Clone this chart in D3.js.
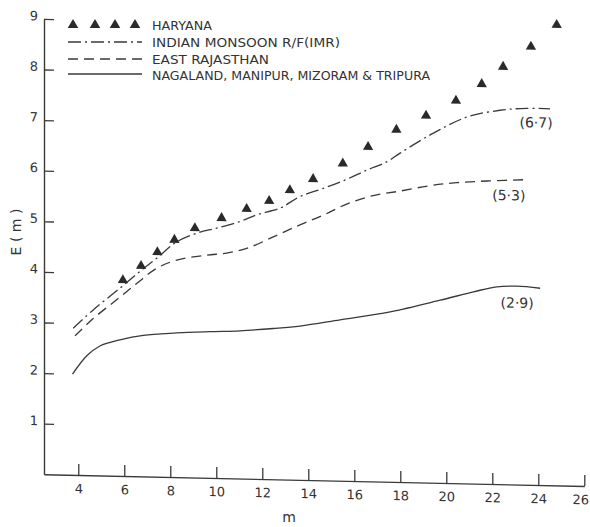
<!DOCTYPE html>
<html><head><meta charset="utf-8">
<script src="https://cdn.jsdelivr.net/npm/d3@7"></script>
<style>body{margin:0;background:#fff}svg{display:block}</style>
</head><body><svg id="c" width="590" height="527"></svg>
<script>
// ---- data ----
const xTicks = [4,6,8,10,12,14,16,18,20,22,24,26];
const yTicks = [1,2,3,4,5,6,7,8,9];
const seriesNames = ["HARYANA","INDIAN MONSOON R/F(IMR)","EAST RAJASTHAN","NAGALAND, MANIPUR, MIZORAM & TRIPURA"];
const endLabels = ["(6·7)","(5·3)","(2·9)"];
const haryanaM = [5.94,6.73,7.44,8.18,9.07,10.23,11.32,12.30,13.20,14.21,15.50,16.60,17.83,19.12,20.42,21.54,22.47,23.68,24.80];
const haryanaE = [3.87,4.16,4.44,4.69,4.93,5.14,5.33,5.50,5.72,5.95,6.27,6.61,6.96,7.25,7.56,7.90,8.25,8.66,9.10];
const imrM = [3.78,4.65,5.81,6.68,7.41,8.28,9.15,10.02,11.03,11.76,12.77,13.64,14.65,15.67,16.54,17.41,17.99,19.44,20.89,22.34,23.50,24.51];
const imrE = [2.90,3.27,3.71,4.05,4.32,4.65,4.83,4.94,5.08,5.22,5.36,5.60,5.77,5.96,6.15,6.32,6.50,6.91,7.24,7.39,7.44,7.44];
const erM = [3.86,4.65,5.67,6.54,7.41,8.28,9.58,10.45,11.32,12.48,13.64,14.65,15.67,16.82,17.99,19.29,20.45,21.90,23.50];
const erE = [2.75,3.10,3.48,3.81,4.12,4.29,4.40,4.45,4.55,4.79,5.04,5.24,5.47,5.65,5.75,5.87,5.94,5.99,6.03];
const nmmtM = [3.75,4.37,4.94,5.81,6.83,8.28,9.73,11.03,12.48,13.64,15.38,17.56,19.73,21.18,22.19,23.06,24.08];
const nmmtE = [1.99,2.36,2.56,2.69,2.79,2.85,2.89,2.92,2.98,3.04,3.18,3.36,3.61,3.79,3.90,3.92,3.89];

// ---- layout ----
const INK = "#3a3a3a";
const FONT = "'DejaVu Sans', sans-serif";
const svg = d3.select("#c");
const ox = 44, oy = 474.3;
const x = d3.scaleLinear().domain([2.51, 26]).range([0, 540.3]);
const y = d3.scaleLinear().domain([0, 9]).range([0, -455.4]);

const g = svg.append("g").attr("transform", `translate(${ox},${oy}) skewY(1.243)`);

// axes
const xAxis = d3.axisBottom(x).tickValues(xTicks).tickSizeInner(-11).tickSizeOuter(0).tickPadding(9);
const gx = g.append("g").call(xAxis);
const yAxis = d3.axisLeft(y).tickValues(yTicks).tickSizeInner(-10).tickSizeOuter(0).tickPadding(6);
const gy = g.append("g").call(yAxis);
[gx, gy].forEach(a => {
  a.select(".domain").attr("stroke", INK).attr("stroke-width", 1.4);
  a.selectAll(".tick line").attr("stroke", INK).attr("stroke-width", 1.3);
  a.selectAll(".tick text").attr("fill", "#333").style("font-family", FONT).style("font-size", "13px");
});
gy.selectAll(".tick text").attr("y", -3);
gx.selectAll(".tick text").filter(d => d === xTicks[xTicks.length - 1]).attr("x", -4);

// lines
const line = d3.line().x(d => x(d[0])).y(d => y(d[1])).curve(d3.curveCatmullRom.alpha(0.5));
const curves = [
  {m: imrM, e: imrE, dash: "13,4,2,4", lab: endLabels[0], dx: -14, dy: 14},
  {m: erM, e: erE, dash: "10,6", lab: endLabels[1], dx: -18, dy: 16},
  {m: nmmtM, e: nmmtE, dash: null, lab: endLabels[2], dx: -23, dy: 15}
];
curves.forEach(c => {
  const pts = c.m.map((v, i) => [v, c.e[i]]);
  g.append("path").datum(pts).attr("d", line)
    .attr("fill", "none").attr("stroke", INK).attr("stroke-width", 1.3)
    .attr("stroke-dasharray", c.dash);
  const last = pts[pts.length - 1];
  g.append("text").attr("x", x(last[0]) + c.dx).attr("y", y(last[1]) + c.dy)
    .attr("text-anchor", "middle").attr("dominant-baseline", "central")
    .attr("fill", "#333").style("font-family", FONT).style("font-size", "14px")
    .text(c.lab);
});

// triangles
const tri = d3.symbol().type(d3.symbolTriangle).size(46);
g.selectAll("path.tri").data(haryanaM.map((v, i) => [v, haryanaE[i]])).join("path")
  .attr("class", "tri").attr("d", tri)
  .attr("transform", d => `translate(${x(d[0])},${y(d[1])})`)
  .attr("fill", "#2a2a2a");

// axis titles
svg.append("text").attr("x", 289).attr("y", 517).attr("text-anchor", "middle")
  .attr("dominant-baseline", "central").attr("fill", "#333")
  .style("font-family", FONT).style("font-size", "14px").text("m");
svg.append("text").attr("transform", "translate(16,232) rotate(-90)").attr("text-anchor", "middle")
  .attr("dominant-baseline", "central").attr("fill", "#333")
  .style("font-family", FONT).style("font-size", "14px").text("E ( m )");

// legend
const lg = svg.append("g");
[73, 95, 115, 135].forEach(px => {
  lg.append("path").attr("d", d3.symbol().type(d3.symbolTriangle).size(48)())
    .attr("transform", `translate(${px},25)`).attr("fill", "#2a2a2a");
});
const legY = [25, 42, 59, 75];
const legDash = [null, "13,4,2,4", "10,6", null];
const legW = [60, 188, 117, 278];
seriesNames.forEach((s, i) => {
  if (i > 0) {
    lg.append("line").attr("x1", 68).attr("x2", 142).attr("y1", legY[i] - (i === 3 ? 1 : 0)).attr("y2", legY[i] - (i === 3 ? 1 : 0))
      .attr("stroke", INK).attr("stroke-width", 1.3).attr("stroke-dasharray", legDash[i]);
  }
  lg.append("text").attr("x", 152).attr("y", legY[i]).attr("dominant-baseline", "central")
    .attr("fill", "#333").style("font-family", FONT).style("font-size", "12.5px")
    .attr("textLength", legW[i]).attr("lengthAdjust", "spacingAndGlyphs")
    .text(s);
});
</script></body></html>
